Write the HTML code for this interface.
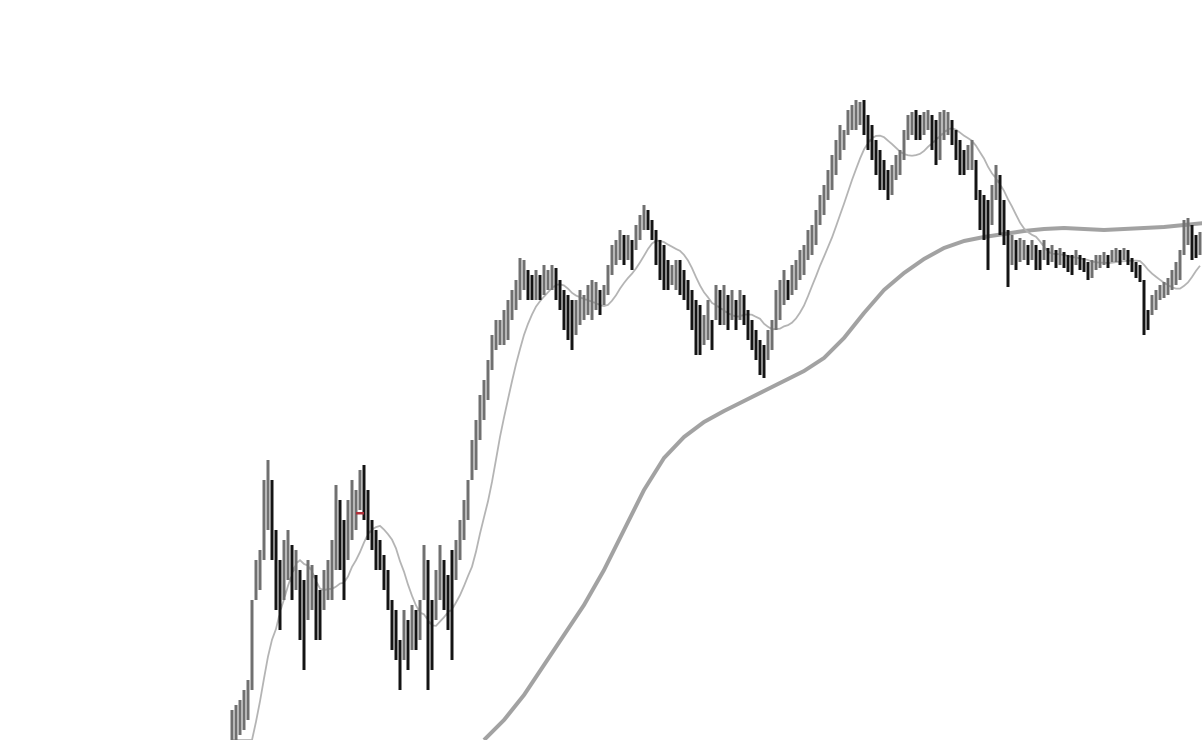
<!DOCTYPE html>
<html><head><meta charset="utf-8"><style>
html,body{margin:0;padding:0;background:#fff;overflow:hidden;width:1202px;height:740px;}
svg{display:block;overflow:hidden;}
</style></head><body>
<svg id="chart" width="1202" height="740" viewBox="0 0 1202 740" xmlns="http://www.w3.org/2000/svg">
<g id="long-ma"></g>
<g id="short-ma"></g>
<g id="bars"></g>
<rect x="356" y="512" width="8" height="2.5" fill="#b0303a"/>
</svg>
<script>
const highs = [30,35,40,50,60,140,180,190,260,280,260,210,180,200,210,195,190,170,160,180,175,165,150,170,180,200,255,240,220,240,260,250,270,275,250,220,210,200,185,170,140,130,100,130,120,135,130,140,195,180,140,170,195,180,165,190,200,220,240,260,300,320,345,360,380,405,420,420,430,440,450,460,482,480,470,465,470,465,475,470,475,472,460,450,445,440,440,450,445,455,460,458,450,455,475,495,500,510,505,505,500,515,525,535,530,520,510,500,495,480,475,480,480,470,460,450,440,435,425,440,420,455,450,455,445,450,440,450,445,430,420,410,400,395,410,420,450,460,470,460,475,480,490,495,510,515,530,545,555,570,585,600,615,610,630,635,640,638,640,625,615,600,590,580,570,575,585,590,610,625,628,630,625,628,630,625,620,628,630,628,620,610,600,590,595,600,580,550,545,540,555,575,565,540,510,505,500,502,500,495,500,495,490,500,492,495,490,492,488,485,485,490,485,482,478,480,485,485,488,485,490,492,490,492,490,482,478,475,460,430,445,450,455,458,462,470,478,490,520,522,515,505,508];
const lows = [0,0,5,10,20,50,140,150,180,210,180,130,110,140,160,140,150,100,70,120,130,100,100,130,140,140,170,170,140,180,200,210,230,220,200,190,170,170,150,130,90,80,50,80,70,90,90,100,140,50,70,120,140,130,110,80,160,180,200,220,260,270,300,320,340,370,390,395,395,400,420,430,440,450,440,440,440,440,445,450,450,440,430,410,400,390,405,415,420,425,420,430,425,435,445,465,475,480,475,480,470,490,500,510,510,500,475,460,450,450,455,450,445,440,430,410,385,385,395,400,390,420,415,415,410,420,410,420,415,400,390,380,365,362,380,390,410,420,435,440,445,450,460,465,480,485,495,515,525,540,550,565,580,590,605,610,610,615,605,590,580,565,550,550,540,545,560,565,580,600,605,600,600,605,610,590,575,580,600,605,595,580,565,565,570,570,540,510,500,470,515,540,505,495,453,475,470,478,480,475,480,470,470,480,475,478,472,475,472,468,465,475,470,468,460,462,470,472,475,472,478,478,475,480,475,468,462,458,405,410,425,430,440,442,445,450,455,460,485,495,480,482,485];
const longMA = [0,20,45,75,105,135,170,210,250,282,303,318,329,339,349,359,369,382,402,427,450,467,481,492,499,503,506,509,511,512,511,510,511,512,513,515,517];
const longMAStart = 63, longMAStep = 5;
const maWindow = 12;

const x0 = 232, step = 4;
const xScale = i => x0 + i * step;
const yScale = p => 740 - p * (740 / 740);
const NS = 'http://www.w3.org/2000/svg';

const mids = highs.map((h, i) => (h + lows[i]) / 2);
const barsG = document.getElementById('bars');
for (let i = 0; i < highs.length; i++) {
  const up = i === 0 ? true : mids[i] >= mids[i - 1];
  const r = document.createElementNS(NS, 'rect');
  
  
  r.setAttribute('x', xScale(i) - 1.5);
  r.setAttribute('y', yScale(highs[i]));
  r.setAttribute('width', 3);
  r.setAttribute('height', Math.max(1, yScale(lows[i]) - yScale(highs[i])));
  r.setAttribute('fill', up ? '#707070' : '#141414');
  barsG.appendChild(r);
}

let pts = [];
for (let i = 0; i < mids.length; i++) {
  const s = Math.max(0, i - maWindow + 1);
  let sum = 0; for (let k = s; k <= i; k++) sum += mids[k];
  const v = Math.max(0, sum / (i - s + 1) - (i < maWindow ? (maWindow - i) * 6 : 0));
  pts.push(xScale(i) + ',' + yScale(v));
}
const sp = document.createElementNS(NS, 'polyline');


sp.setAttribute('points', pts.join(' '));
sp.setAttribute('fill', 'none');
sp.setAttribute('stroke', '#b4b4b4');
sp.setAttribute('stroke-width', '1.8');
document.getElementById('short-ma').appendChild(sp);

const lp = document.createElementNS(NS, 'polyline');


lp.setAttribute('points', longMA.map((v, k) => xScale(longMAStart + k * longMAStep) + ',' + yScale(v)).join(' '));
lp.setAttribute('fill', 'none');
lp.setAttribute('stroke', '#a2a2a2');
lp.setAttribute('stroke-width', '4');
lp.setAttribute('stroke-linejoin', 'round');
document.getElementById('long-ma').appendChild(lp);
</script>
</body></html>
